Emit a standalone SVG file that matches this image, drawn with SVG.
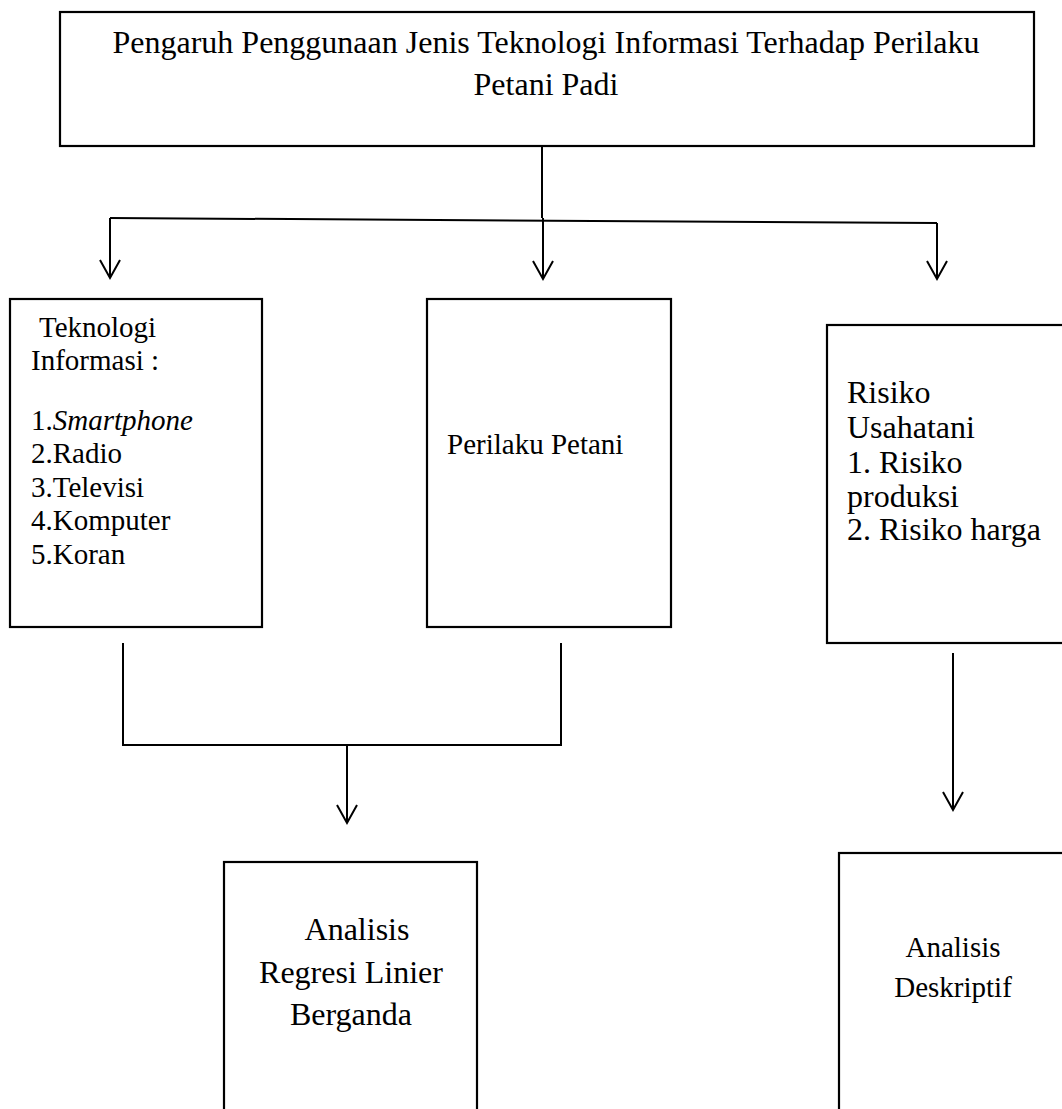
<svg xmlns="http://www.w3.org/2000/svg" width="1062" height="1109" viewBox="0 0 1062 1109">
<style>
.box{fill:#fff;stroke:#000;stroke-width:2.2}
.t{font-family:"Liberation Serif","Times New Roman",serif;fill:#000}
.c{fill:none;stroke:#000;stroke-width:2}
</style>
<defs>
<marker id="arr" markerUnits="userSpaceOnUse" markerWidth="22" markerHeight="24" refX="19" refY="11" orient="auto" viewBox="0 0 22 22">
<path d="M1,1 L19,11 L1,21" fill="none" stroke="#000" stroke-width="2"/>
</marker>
</defs>
<rect width="1062" height="1109" fill="#fff"/>
<g id="connectors">
<line class="c" x1="542" y1="147" x2="542" y2="218"/>
<line class="c" x1="110" y1="218" x2="937" y2="223"/>
<path class="c" d="M110,218 V278" marker-end="url(#arr)"/>
<path class="c" d="M543,218 V279" marker-end="url(#arr)"/>
<path class="c" d="M937,223 V279" marker-end="url(#arr)"/>
<path class="c" d="M123,643 V745 H561 V643"/>
<path class="c" d="M347,745 V823" marker-end="url(#arr)"/>
<path class="c" d="M953,653 V810" marker-end="url(#arr)"/>
</g>
<g id="title">
<rect class="box" x="60" y="12" width="974" height="134"/>
<text class="t" font-size="32" text-anchor="middle" x="546" y="53">Pengaruh Penggunaan Jenis Teknologi Informasi Terhadap Perilaku</text>
<text class="t" font-size="32" text-anchor="middle" x="546" y="95">Petani Padi</text>
</g>
<g id="teknologi">
<rect class="box" x="10" y="299" width="252" height="328"/>
<text class="t" font-size="29" x="39" y="337">Teknologi</text>
<text class="t" font-size="29" x="31" y="370">Informasi :</text>
<text class="t" font-size="29" x="31" y="430">1.<tspan font-style="italic">Smartphone</tspan></text>
<text class="t" font-size="29" x="31" y="463">2.Radio</text>
<text class="t" font-size="29" x="31" y="497">3.Televisi</text>
<text class="t" font-size="29" x="31" y="530">4.Komputer</text>
<text class="t" font-size="29" x="31" y="564">5.Koran</text>
</g>
<g id="perilaku">
<rect class="box" x="427" y="299" width="244" height="328"/>
<text class="t" font-size="29" x="447" y="454">Perilaku Petani</text>
</g>
<g id="risiko">
<rect class="box" x="827" y="325" width="245" height="318"/>
<text class="t" font-size="32" x="847" y="403">Risiko</text>
<text class="t" font-size="32" x="847" y="438">Usahatani</text>
<text class="t" font-size="32" x="847" y="473">1. Risiko</text>
<text class="t" font-size="32" x="847" y="507">produksi</text>
<text class="t" font-size="32" x="847" y="540">2. Risiko harga</text>
</g>
<g id="regresi">
<rect class="box" x="224" y="862" width="253" height="260"/>
<text class="t" font-size="32" text-anchor="middle" x="357" y="940">Analisis</text>
<text class="t" font-size="32" text-anchor="middle" x="351" y="983">Regresi Linier</text>
<text class="t" font-size="32" text-anchor="middle" x="351" y="1025">Berganda</text>
</g>
<g id="deskriptif">
<rect class="box" x="839" y="853" width="240" height="270"/>
<text class="t" font-size="29" text-anchor="middle" x="953" y="957">Analisis</text>
<text class="t" font-size="29" text-anchor="middle" x="953" y="997">Deskriptif</text>
</g>
</svg>
